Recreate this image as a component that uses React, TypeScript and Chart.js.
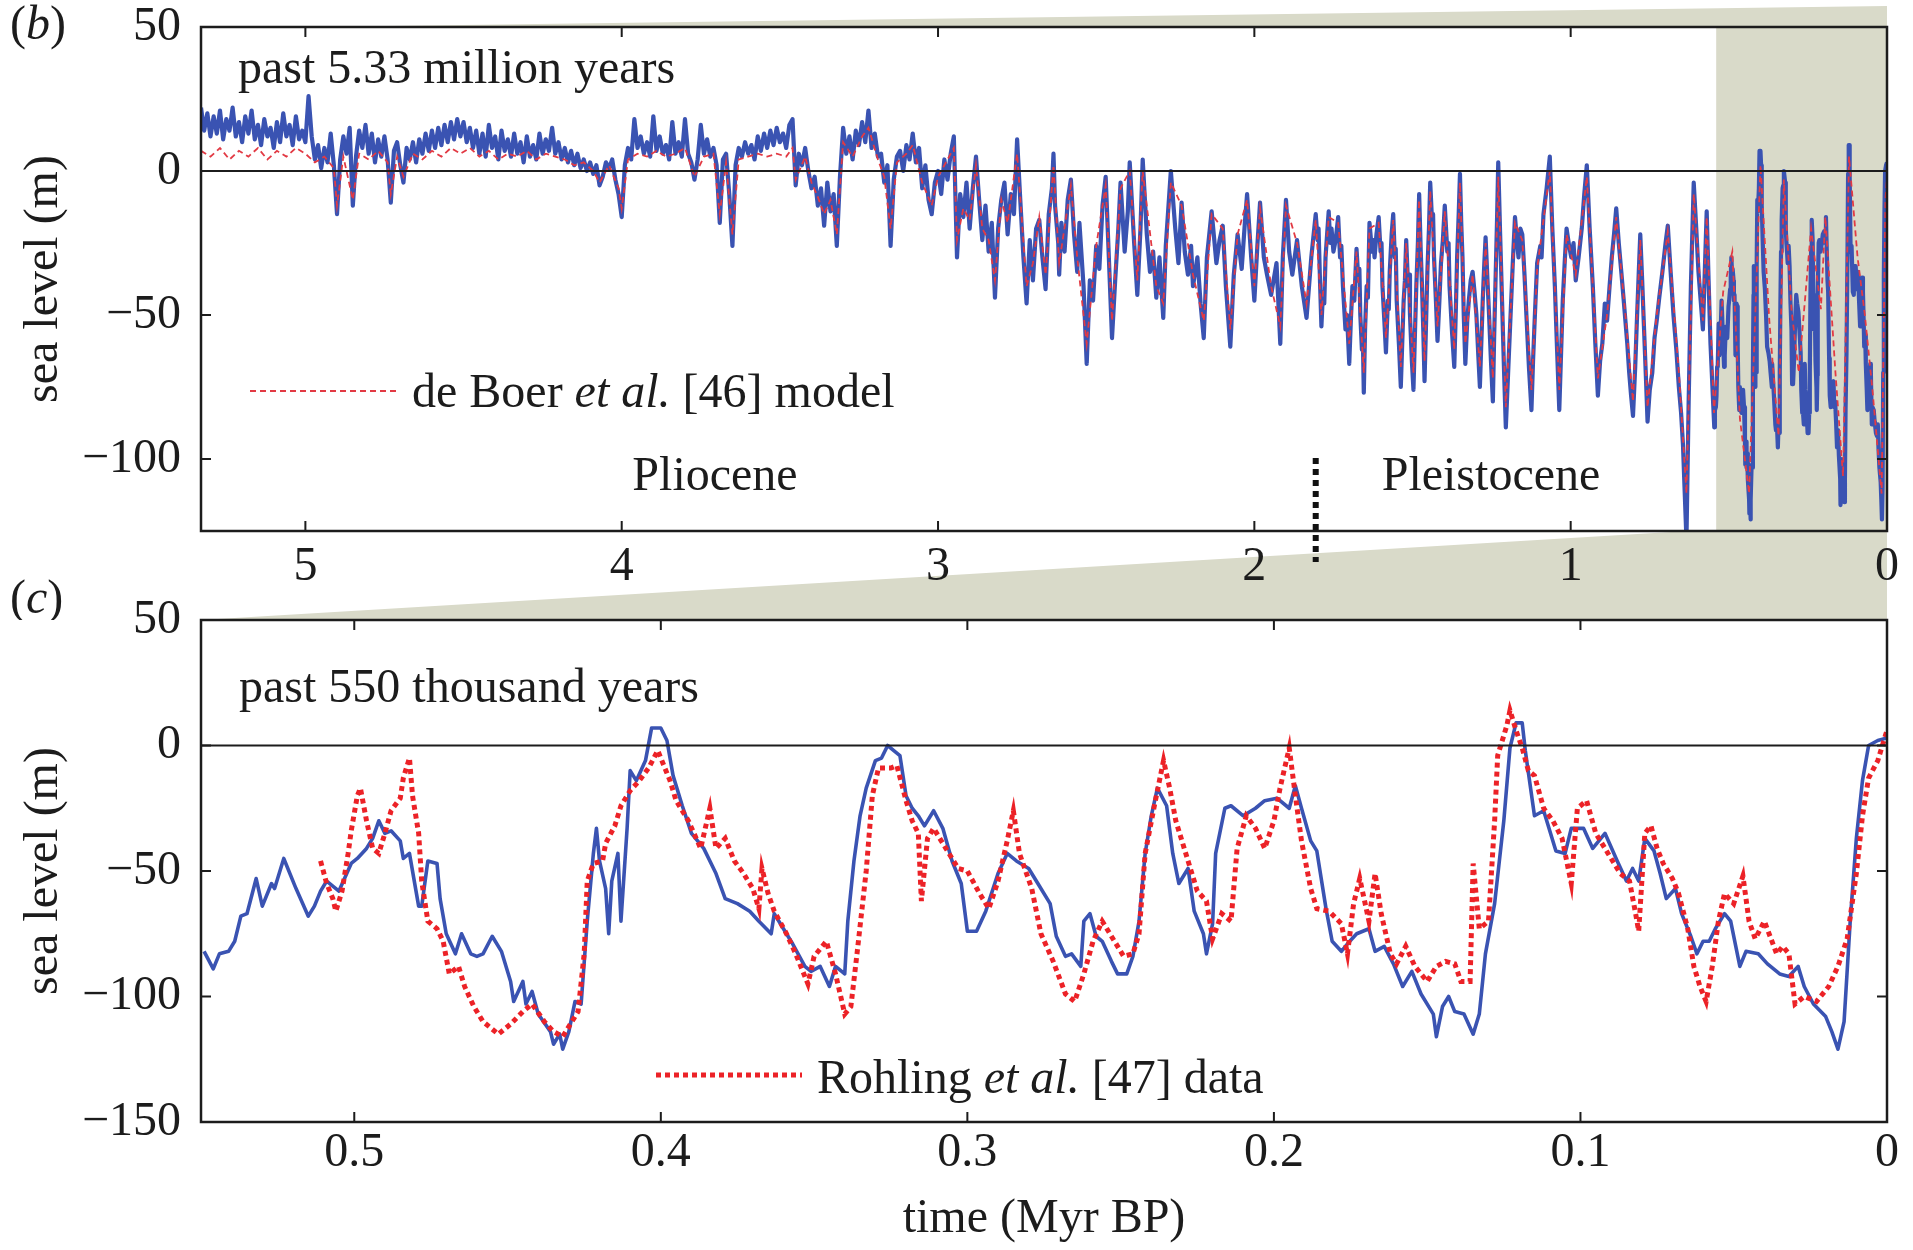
import React, { useEffect, useRef } from 'react';
import { Chart, registerables } from 'chart.js';

Chart.register(...registerables);

const FONT = '"Liberation Serif", "Times New Roman", serif';
const INK = '#1c1c1c';
const BLUE = '#3a53b2';
const RED_B = '#e23a44';
const RED_C = '#ec2227';
const SHADE = '#d9dac9';

// ---------- panel (b): past 5.33 Myr ----------
const bBlueTime = [
  5.33, 5.32, 5.31, 5.30, 5.29, 5.28, 5.27, 5.26, 5.25, 5.24, 5.23, 5.22, 5.21, 5.20, 5.19, 5.18, 5.17, 5.16, 5.15, 5.14,
  5.13, 5.12, 5.11, 5.10, 5.09, 5.08, 5.07, 5.06, 5.05, 5.04, 5.03, 5.02, 5.01, 5.00, 4.99, 4.98, 4.97, 4.96, 4.95, 4.94,
  4.93, 4.92, 4.91, 4.90, 4.89, 4.88, 4.87, 4.86, 4.85, 4.84, 4.83, 4.82, 4.81, 4.80, 4.79, 4.78, 4.77, 4.76, 4.75, 4.74,
  4.73, 4.72, 4.71, 4.70, 4.69, 4.68, 4.67, 4.66, 4.65, 4.64, 4.63, 4.62, 4.61, 4.60, 4.59, 4.58, 4.57, 4.56, 4.55, 4.54,
  4.53, 4.52, 4.51, 4.50, 4.49, 4.48, 4.47, 4.46, 4.45, 4.44, 4.43, 4.42, 4.41, 4.40, 4.39, 4.38, 4.37, 4.36, 4.35, 4.34,
  4.33, 4.32, 4.31, 4.30, 4.29, 4.28, 4.27, 4.26, 4.25, 4.24, 4.23, 4.22, 4.21, 4.20, 4.19, 4.18, 4.17, 4.16, 4.15, 4.14,
  4.13, 4.12, 4.11, 4.10, 4.09, 4.08, 4.07, 4.06, 4.05, 4.04, 4.03, 4.02, 4.01, 4.00, 3.99, 3.98, 3.97, 3.96, 3.95, 3.94,
  3.93, 3.92, 3.91, 3.90, 3.89, 3.88, 3.87, 3.86, 3.85, 3.84, 3.83, 3.82, 3.81, 3.80, 3.79, 3.78, 3.77, 3.76, 3.75, 3.74,
  3.73, 3.72, 3.71, 3.70, 3.69, 3.68, 3.67, 3.66, 3.65, 3.64, 3.63, 3.62, 3.61, 3.60, 3.59, 3.58, 3.57, 3.56, 3.55, 3.54,
  3.53, 3.52, 3.51, 3.50, 3.49, 3.48, 3.47, 3.46, 3.45, 3.44, 3.43, 3.42, 3.41, 3.40, 3.39, 3.38, 3.37, 3.36, 3.35, 3.34,
  3.33, 3.32, 3.31, 3.30, 3.29, 3.28, 3.27, 3.26, 3.25, 3.24, 3.23, 3.22, 3.21, 3.20, 3.19, 3.18, 3.17, 3.16, 3.15, 3.14,
  3.13, 3.12, 3.11, 3.10, 3.09, 3.08, 3.07, 3.06, 3.05, 3.04, 3.03, 3.02, 3.01, 3.00, 2.99, 2.98, 2.97, 2.96, 2.95, 2.94,
  2.93, 2.92, 2.91, 2.90, 2.89, 2.88, 2.87, 2.86, 2.85, 2.84, 2.83, 2.82, 2.81, 2.80, 2.79, 2.78, 2.77, 2.76, 2.75, 2.74,
  2.73, 2.72, 2.71, 2.70, 2.69, 2.68, 2.67, 2.66, 2.65, 2.64, 2.635, 2.63, 2.62, 2.617, 2.61, 2.60, 2.59, 2.58, 2.57, 2.56,
  2.553, 2.54, 2.53, 2.52, 2.51, 2.50, 2.49, 2.48, 2.47, 2.46, 2.45, 2.44, 2.43, 2.423, 2.41, 2.40, 2.394, 2.38, 2.37, 2.36,
  2.353, 2.34, 2.33, 2.32, 2.31, 2.30, 2.288, 2.28, 2.264, 2.25, 2.24, 2.23, 2.22, 2.21, 2.20, 2.194, 2.18, 2.17, 2.16, 2.15,
  2.135, 2.12, 2.11, 2.10, 2.09, 2.076, 2.065, 2.053, 2.04, 2.03, 2.023, 2.01, 2.00, 1.99, 1.982, 1.97, 1.96, 1.947, 1.93, 1.918,
  1.91, 1.90, 1.89, 1.88, 1.865, 1.85, 1.835, 1.82,
];
const bBlueSea = [
  22, 14, 20, 12, 19, 13, 21, 11, 18, 14, 22, 12, 17, 10, 19, 13, 21, 11, 16, 9,
  18, 12, 15, 8, 17, 10, 20, 12, 16, 9, 19, 11, 14, 10, 26, 12, 4, 9, 1, 8,
  3, 13, 2, -15, 4, 12, 6, 15, -12, 5, 14, 8, 16, 6, 13, 3, 11, 5, 12, 4,
  -11, 7, 10, 2, -4, 8, 4, 10, 3, 11, 6, 13, 7, 14, 8, 15, 9, 16, 10, 17,
  11, 18, 12, 17, 10, 15, 8, 14, 6, 13, 5, 16, 8, 12, 4, 14, 7, 11, 5, 13,
  6, 10, 3, 12, 5, 9, 4, 13, 6, 11, 7, 15, 6, 10, 4, 8, 3, 7, 2, 6,
  1, 4, 0, 3, -1, 2, -5, -2, 3, 1, 4, -3, -8, -16, 2, 8, 4, 18, 8, 12,
  6, 10, 5, 19, 7, 12, 6, 9, 4, 17, 6, 10, 5, 18, 6, 3, -3, 4, 16, 6,
  11, 5, 8, 2, -18, 4, 6, -8, -26, 2, 8, 5, 10, 6, 9, 4, 12, 7, 13, 8,
  14, 9, 15, 10, 13, 8, 16, 18, -5, 6, 2, 8, 0, -6, -2, -12, -6, -19, -4, -14,
  -8, -26, -2, 15, 6, 12, 4, 14, 9, 17, 10, 21, 8, 13, 5, 6, -4, 2, -26, -3,
  5, 7, 0, 9, 4, 13, 3, 8, -6, 2, -10, -15, -4, 0, -8, 4, -3, 6, 12, -30,
  -8, -16, -4, -20, -6, 5, -10, -24, -12, -28, -18, -44, -20, -10, -4, -22, -8, -15, 11, -10,
  -30, -46, -24, -38, -20, -17, -30, -41, -15, -6, 6, -12, -25, -36, -18, -28, -10, -3, -22, -35,
  -18, -40, -67, -38, -45, -26, -34, -12, -2, -30, -58, -38, -20, -4, -28, -14, 3, -25, -43, -20,
  4, -22, -35, -28, -44, -30, -51, -26, 0, -20, -32, -11, -28, -36, -26, -40, -30, -46, -58, -30,
  -14, -32, -24, -19, -40, -61, -36, -22, -34, -18, -8, -30, -45, -25, -11, -30, -36, -43, -32, -60,
  -30, -10, -28, -36, -24, -40, -51, -30,
];

// Pleistocene part of panel (b), 1.806 – 0.558 Myr
const bPleistTime = [
  1.806, 1.800, 1.797, 1.792, 1.788, 1.783, 1.779, 1.775, 1.770, 1.765,
  1.760, 1.756, 1.75, 1.743, 1.735, 1.729, 1.725, 1.72, 1.712, 1.707,
  1.70, 1.695, 1.69, 1.684, 1.677, 1.671, 1.668, 1.665, 1.660, 1.657,
  1.654, 1.650, 1.645, 1.641, 1.636, 1.628, 1.624, 1.62, 1.614, 1.607,
  1.601, 1.598, 1.595, 1.589, 1.584, 1.578, 1.575, 1.572, 1.566, 1.561,
  1.556, 1.553, 1.55, 1.543, 1.537, 1.532, 1.528, 1.524, 1.52, 1.514,
  1.511, 1.508, 1.502, 1.497, 1.492, 1.488, 1.483, 1.479, 1.474, 1.47,
  1.466, 1.462, 1.457, 1.453, 1.448, 1.444, 1.438, 1.435, 1.432, 1.426,
  1.421, 1.415, 1.41, 1.404, 1.398, 1.390, 1.386, 1.383, 1.375, 1.368,
  1.363, 1.359, 1.354, 1.35, 1.346, 1.342, 1.338, 1.333, 1.327, 1.322,
  1.316, 1.31, 1.304, 1.298, 1.292, 1.287, 1.282, 1.278, 1.273, 1.269,
  1.263, 1.258, 1.252, 1.246, 1.242, 1.238, 1.233, 1.229, 1.223, 1.217,
  1.211, 1.205, 1.197, 1.19, 1.183, 1.176, 1.170, 1.165, 1.159, 1.153,
  1.146, 1.14, 1.132, 1.124, 1.119, 1.115, 1.11, 1.106, 1.096, 1.092,
  1.086, 1.076, 1.066, 1.058, 1.05, 1.043, 1.036, 1.03, 1.025, 1.019,
  1.013, 1.005, 0.998, 0.991, 0.984, 0.975, 0.965, 0.957, 0.949, 0.94,
  0.93, 0.922, 0.914, 0.907, 0.9, 0.892, 0.885, 0.877, 0.87, 0.863,
  0.856, 0.848, 0.84, 0.833, 0.827, 0.821, 0.815, 0.809, 0.803, 0.796,
  0.79, 0.785, 0.78, 0.774, 0.768, 0.762, 0.757, 0.75, 0.742, 0.735,
  0.728, 0.72, 0.71, 0.70, 0.693, 0.684, 0.675, 0.666, 0.658, 0.651,
  0.645, 0.64, 0.634, 0.627, 0.62, 0.615, 0.611, 0.603, 0.596, 0.589,
  0.582, 0.576, 0.57, 0.564, 0.558,
];
const bPleistSea = [
  -15, -24, -20, -40, -54, -42, -46, -30, -22, -14,
  -25, -20, -28, -24, -16, -30, -26, -40, -55, -50,
  -67, -52, -40, -45, -27, -38, -34, -50, -62, -58,
  -77, -55, -40, -44, -18, -28, -24, -30, -22, -16,
  -28, -25, -40, -52, -63, -45, -48, -35, -22, -15,
  -30, -27, -45, -60, -75, -58, -45, -38, -24, -40,
  -36, -50, -66, -76, -55, -40, -25, -8, -28, -40,
  -55, -73, -52, -35, -20, -4, -18, -15, -30, -45,
  -59, -45, -32, -24, -12, -28, -25, -40, -56, -68,
  -48, -30, -15, -1, -18, -30, -50, -67, -52, -45,
  -38, -35, -42, -50, -64, -75, -58, -45, -32, -23,
  -38, -50, -66, -80, -58, -40, -18, 3, -22, -45,
  -68, -89, -68, -50, -32, -16, -24, -30, -20, -22,
  -36, -50, -68, -83, -66, -55, -42, -32, -26, -30,
  -15, -6, 5, -20, -40, -62, -83, -62, -45, -32,
  -20, -26, -30, -25, -38, -30, -20, -8, 2, -20,
  -40, -60, -78, -66, -60, -46, -52, -40, -30, -22,
  -13, -25, -35, -44, -52, -60, -70, -78, -85, -68,
  -50, -36, -22, -38, -55, -72, -87, -76, -70, -58,
  -52, -44, -35, -25, -19, -35, -50, -62, -75, -84,
  -95, -110, -128, -80, -40, -20, -4, -20, -35, -45,
  -55, -35, -14, -38, -60,
];

const bRedTime = [
  5.33, 5.30, 5.27, 5.24, 5.21, 5.18, 5.15, 5.12, 5.09, 5.06, 5.03, 5.00, 4.97, 4.94, 4.91, 4.90, 4.88, 4.85, 4.83, 4.80,
  4.77, 4.74, 4.73, 4.71, 4.69, 4.66, 4.63, 4.60, 4.57, 4.54, 4.51, 4.48, 4.45, 4.42, 4.39, 4.36, 4.33, 4.30, 4.27, 4.24,
  4.21, 4.18, 4.15, 4.12, 4.09, 4.07, 4.04, 4.01, 4.00, 3.98, 3.95, 3.92, 3.89, 3.86, 3.83, 3.80, 3.77, 3.74, 3.71, 3.69,
  3.67, 3.65, 3.63, 3.60, 3.57, 3.54, 3.51, 3.48, 3.46, 3.45, 3.42, 3.40, 3.38, 3.36, 3.34, 3.32, 3.30, 3.27, 3.24, 3.22,
  3.19, 3.17, 3.15, 3.13, 3.10, 3.08, 3.05, 3.02, 3.00, 2.98, 2.95, 2.94, 2.92, 2.90, 2.88, 2.86, 2.84, 2.82, 2.80, 2.78,
  2.75, 2.72, 2.70, 2.68, 2.66, 2.635, 2.617, 2.58, 2.56, 2.53, 2.50, 2.47, 2.45, 2.423, 2.394, 2.37, 2.353, 2.31, 2.288, 2.264,
  2.23, 2.194, 2.16, 2.135, 2.10, 2.076, 2.053, 2.023, 2.00, 1.982, 1.947, 1.918, 1.90, 1.865, 1.835, 1.806, 1.788, 1.765, 1.735, 1.70,
  1.677, 1.654, 1.636, 1.607, 1.584, 1.561, 1.537, 1.52, 1.497, 1.479, 1.462, 1.444, 1.421, 1.398, 1.368, 1.35, 1.333, 1.31, 1.287, 1.269,
  1.246, 1.229, 1.205, 1.176, 1.153, 1.124, 1.106, 1.066, 1.036, 1.013, 0.984, 0.949, 0.914, 0.885, 0.856, 0.827, 0.803, 0.78, 0.757, 0.728,
  0.693, 0.658, 0.634, 0.611, 0.582, 0.57, 0.547, 0.518, 0.489, 0.465, 0.436, 0.40, 0.372, 0.343, 0.326, 0.302, 0.279, 0.24, 0.209, 0.195,
  0.163, 0.139, 0.12, 0.093, 0.070, 0.046, 0.017, 0.005, 0.0,
];
const bRedSea = [
  7, 5, 8, 4, 7, 5, 8, 4, 7, 5, 8, 6, 3, 5, 1, -12, 5, -10, 6, 4,
  7, 3, -8, 5, -2, 6, 4, 7, 5, 8, 6, 8, 5, 7, 4, 6, 5, 7, 4, 6,
  5, 4, 2, 3, 0, -4, 2, -6, -13, 4, 6, 5, 7, 5, 6, 8, -2, 5, 6, -15,
  3, -22, 4, 5, 6, 5, 6, 5, 8, -3, 5, -4, -9, -15, -10, -22, 10, 5, 12, 15,
  4, -2, -20, 3, 6, 9, -4, -12, -2, 2, 8, -24, -13, -17, 2, -20, -24, -38, -10, -18,
  6, -40, -32, -16, -36, 2, -32, -5, -30, -60, -26, -5, -52, -6, 0, -38, 0, -40, -46, -4,
  -12, -36, -52, -15, -20, -55, -22, -10, -40, -13, -40, -54, -12, -25, -46, -17, -50, -16, -18, -60,
  -28, -70, -20, -18, -58, -17, -68, -25, -70, -10, -66, -7, -54, -14, -62, -4, -60, -36, -68, -25,
  -72, -2, -82, -18, -24, -76, -34, 0, -76, -22, -36, -2, -72, -50, -16, -50, -80, -24, -82, -50,
  -21, -70, -112, -8, -52, -16, -84, -42, -28, -86, -112, 2, -52, -92, -3, -48, -70, -20, -48, -16,
  -70, -106, 5, -30, -50, -76, -112, -10, -2,
];

// ---------- panel (c): past 550 kyr ----------
const cBlueTime = [
  0.549, 0.546, 0.544, 0.541, 0.539, 0.537, 0.535, 0.532, 0.530, 0.527, 0.526, 0.523, 0.519, 0.515, 0.513, 0.511, 0.509, 0.505, 0.501, 0.499,
  0.496, 0.494, 0.492, 0.490, 0.488, 0.485, 0.484, 0.482, 0.479, 0.478, 0.476, 0.473, 0.472, 0.470, 0.467, 0.465, 0.462, 0.460, 0.458, 0.455,
  0.452, 0.449, 0.448, 0.445, 0.444, 0.442, 0.440, 0.436, 0.435, 0.433, 0.432, 0.430, 0.428, 0.426, 0.424, 0.422, 0.421, 0.420, 0.418, 0.417,
  0.416, 0.414, 0.413, 0.411, 0.410, 0.408, 0.405, 0.403, 0.400, 0.398, 0.396, 0.393, 0.390, 0.386, 0.382, 0.379, 0.375, 0.371, 0.368, 0.364,
  0.363, 0.360, 0.357, 0.353, 0.351, 0.348, 0.345, 0.343, 0.340, 0.339, 0.337, 0.335, 0.333, 0.330, 0.328, 0.326, 0.324, 0.322, 0.320, 0.318,
  0.316, 0.314, 0.311, 0.308, 0.305, 0.302, 0.300, 0.297, 0.294, 0.290, 0.287, 0.284, 0.280, 0.277, 0.273, 0.271, 0.268, 0.266, 0.263, 0.262,
  0.260, 0.258, 0.256, 0.253, 0.251, 0.248, 0.246, 0.244, 0.242, 0.240, 0.238, 0.235, 0.233, 0.231, 0.228, 0.226, 0.223, 0.222, 0.220, 0.219,
  0.216, 0.214, 0.210, 0.206, 0.203, 0.199, 0.195, 0.193, 0.191, 0.188, 0.186, 0.183, 0.181, 0.178, 0.176, 0.173, 0.169, 0.167, 0.164, 0.161,
  0.158, 0.155, 0.152, 0.148, 0.147, 0.145, 0.143, 0.141, 0.138, 0.135, 0.133, 0.131, 0.128, 0.125, 0.123, 0.121, 0.119, 0.118, 0.115, 0.112,
  0.108, 0.105, 0.103, 0.099, 0.096, 0.092, 0.088, 0.085, 0.083, 0.081, 0.079, 0.076, 0.074, 0.072, 0.069, 0.067, 0.064, 0.062, 0.060, 0.058,
  0.056, 0.053, 0.051, 0.048, 0.046, 0.042, 0.039, 0.035, 0.032, 0.029, 0.027, 0.024, 0.020, 0.018, 0.016, 0.014, 0.012, 0.010, 0.008, 0.006,
  0.003, 0.0,
];
const cBlueSea = [
  -82, -89, -83, -82, -78, -68, -67, -53, -64, -55, -57, -45, -57, -68, -64, -58, -54, -58, -47, -45,
  -41, -37, -30, -35, -34, -38, -45, -43, -64, -64, -46, -47, -61, -75, -83, -75, -83, -84, -83, -76,
  -82, -94, -102, -94, -103, -98, -107, -114, -119, -115, -121, -114, -102, -103, -70, -43, -33, -46, -57, -75,
  -54, -43, -70, -33, -10, -14, -6, 7, 7, 2, -12, -24, -35, -41, -51, -61, -63, -66, -70, -75,
  -67, -73, -79, -88, -90, -88, -96, -88, -91, -70, -46, -28, -17, -6, -5, 0, -2, -4, -20, -25,
  -28, -32, -26, -33, -46, -55, -74, -74, -66, -51, -43, -46, -49, -55, -63, -76, -84, -83, -88, -70,
  -67, -76, -78, -86, -91, -91, -84, -70, -43, -28, -17, -24, -43, -55, -49, -66, -75, -83, -71, -43,
  -25, -24, -28, -25, -22, -21, -25, -16, -25, -38, -42, -65, -78, -82, -79, -75, -73, -82, -80, -87,
  -96, -90, -99, -107, -116, -104, -100, -106, -107, -115, -107, -83, -63, -30, -1, 9, 9, -2, -28, -26,
  -42, -43, -33, -33, -41, -35, -46, -54, -49, -54, -37, -42, -51, -61, -57, -67, -76, -83, -78, -78,
  -73, -67, -70, -88, -82, -83, -87, -91, -92, -88, -96, -103, -108, -114, -121, -110, -70, -37, -14, 0,
  2, 3,
];

const cRedTime = [
  0.511, 0.509, 0.507, 0.506, 0.504, 0.502, 0.501, 0.499, 0.498, 0.496, 0.494, 0.492, 0.490, 0.488, 0.485, 0.484, 0.482, 0.481, 0.479, 0.478,
  0.476, 0.473, 0.471, 0.469, 0.466, 0.464, 0.461, 0.458, 0.453, 0.449, 0.445, 0.442, 0.438, 0.435, 0.432, 0.430, 0.427, 0.425, 0.424, 0.422,
  0.419, 0.418, 0.415, 0.413, 0.410, 0.407, 0.404, 0.401, 0.399, 0.397, 0.395, 0.391, 0.387, 0.384, 0.382, 0.379, 0.376, 0.373, 0.370, 0.368,
  0.367, 0.365, 0.363, 0.359, 0.356, 0.352, 0.350, 0.346, 0.343, 0.340, 0.338, 0.336, 0.333, 0.331, 0.329, 0.325, 0.323, 0.320, 0.318, 0.316,
  0.315, 0.313, 0.311, 0.307, 0.303, 0.300, 0.296, 0.293, 0.290, 0.287, 0.285, 0.283, 0.279, 0.276, 0.272, 0.268, 0.265, 0.262, 0.259, 0.256,
  0.252, 0.249, 0.246, 0.244, 0.242, 0.239, 0.236, 0.234, 0.232, 0.228, 0.225, 0.222, 0.220, 0.217, 0.214, 0.212, 0.209, 0.206, 0.203, 0.200,
  0.198, 0.195, 0.193, 0.191, 0.188, 0.186, 0.182, 0.178, 0.176, 0.174, 0.172, 0.169, 0.167, 0.165, 0.162, 0.160, 0.157, 0.154, 0.150, 0.147,
  0.144, 0.141, 0.139, 0.136, 0.135, 0.133, 0.130, 0.128, 0.127, 0.124, 0.123, 0.121, 0.119, 0.117, 0.115, 0.112, 0.109, 0.106, 0.103, 0.101,
  0.098, 0.095, 0.091, 0.087, 0.084, 0.082, 0.081, 0.079, 0.077, 0.075, 0.073, 0.070, 0.068, 0.065, 0.063, 0.061, 0.059, 0.057, 0.055, 0.053,
  0.050, 0.047, 0.045, 0.043, 0.040, 0.036, 0.034, 0.032, 0.030, 0.027, 0.023, 0.019, 0.016, 0.013, 0.010, 0.008, 0.006, 0.003, 0.001, 0.0,
];
const cRedSea = [
  -46, -55, -61, -66, -58, -43, -34, -20, -17, -30, -41, -43, -35, -26, -21, -13, -5, -20, -35, -54,
  -70, -73, -78, -91, -88, -96, -104, -110, -115, -111, -106, -103, -110, -114, -116, -112, -106, -83, -54, -47,
  -46, -39, -32, -24, -18, -14, -9, -2, -8, -14, -22, -30, -41, -25, -41, -37, -46, -51, -57, -65,
  -49, -59, -66, -75, -83, -95, -84, -78, -91, -107, -104, -83, -50, -20, -9, -9, -8, -22, -30, -35,
  -62, -37, -33, -41, -49, -50, -59, -65, -54, -38, -26, -43, -57, -75, -86, -99, -102, -91, -78, -70,
  -78, -84, -83, -75, -43, -24, -6, -17, -30, -46, -58, -62, -77, -67, -70, -41, -28, -33, -41, -30,
  -17, -1, -20, -38, -57, -65, -66, -71, -83, -63, -53, -70, -51, -67, -83, -87, -80, -88, -94, -88,
  -86, -87, -94, -94, -47, -73, -70, -30, -4, 8, 14, 6, -1, -10, -12, -25, -30, -37, -55, -25,
  -22, -35, -43, -51, -54, -67, -74, -35, -32, -41, -47, -53, -59, -73, -88, -96, -102, -88, -70, -59,
  -63, -52, -70, -77, -70, -83, -80, -83, -103, -100, -102, -96, -88, -77, -51, -28, -13, -6, 2, 6,
];

// ---------- axes ----------
const bXTicks = [0, 1, 2, 3, 4, 5];
const bYTicks = [-100, -50, 0, 50];
const cXTicks = [0, 0.1, 0.2, 0.3, 0.4, 0.5];
const cYTicks = [-150, -100, -50, 0, 50];
const epochBoundary = 1.806;

function pts(t: number[], v: number[]) {
  return t.map((x, i) => ({ x, y: v[i] }));
}
const fmtInt = (v: number) => (v < 0 ? '\u2212' + Math.abs(v) : String(v));
const fmtDec = (v: number) => (Math.abs(v) < 1e-9 ? '0' : v.toFixed(1));

function rich(ctx: CanvasRenderingContext2D, x: number, y: number, parts: [string, boolean][], size = 48) {
  let cx = x;
  ctx.textBaseline = 'alphabetic';
  ctx.textAlign = 'left';
  ctx.fillStyle = INK;
  for (const [s, it] of parts) {
    ctx.font = `${it ? 'italic ' : ''}${size}px ${FONT}`;
    ctx.fillText(s, cx, y);
    cx += ctx.measureText(s).width;
  }
}

function frameTicks(xt: number[], yt: number[]) {
  return {
    id: 'frameTicks',
    afterDatasetsDraw(chart: any) {
      const { ctx, chartArea: a, scales } = chart;
      const y0 = scales.y.getPixelForValue(0);
      ctx.save();
      ctx.strokeStyle = INK;
      ctx.lineWidth = 2;
      ctx.beginPath();
      ctx.moveTo(a.left, y0);
      ctx.lineTo(a.right, y0);
      ctx.stroke();
      ctx.restore();
    },
    afterDraw(chart: any) {
      const { ctx, chartArea: a, scales } = chart;
      ctx.save();
      ctx.strokeStyle = INK;
      ctx.lineWidth = 2.5;
      ctx.strokeRect(a.left, a.top, a.right - a.left, a.bottom - a.top);
      ctx.lineWidth = 2;
      const L = 10;
      ctx.beginPath();
      for (const v of xt) {
        const px = scales.x.getPixelForValue(v);
        ctx.moveTo(px, a.bottom);
        ctx.lineTo(px, a.bottom - L);
        ctx.moveTo(px, a.top);
        ctx.lineTo(px, a.top + L);
      }
      for (const v of yt) {
        const py = scales.y.getPixelForValue(v);
        ctx.moveTo(a.left, py);
        ctx.lineTo(a.left + L, py);
        ctx.moveTo(a.right, py);
        ctx.lineTo(a.right - L, py);
      }
      ctx.stroke();
      ctx.restore();
    },
  };
}

const tickFont = { family: FONT, size: 48 };

function zeroPad(s: any) {
  s.paddingTop = 0;
  s.paddingBottom = 0;
  s.paddingLeft = 0;
  s.paddingRight = 0;
}

function axisX(min: number, max: number, ticks: number[], height: number, pad: number, fmt: (v: number) => string, title?: string) {
  return {
    type: 'linear',
    reverse: true,
    min,
    max,
    grid: { display: false, drawTicks: false },
    border: { display: false },
    afterBuildTicks: (s: any) => {
      s.ticks = ticks.map((v) => ({ value: v }));
    },
    afterFit: (s: any) => {
      s.height = height;
      zeroPad(s);
    },
    ticks: { font: tickFont, color: INK, padding: pad, maxRotation: 0, minRotation: 0, autoSkip: false, callback: (v: any) => fmt(Number(v)) },
    title: title
      ? { display: true, text: title, font: tickFont, color: INK, padding: { top: 0, bottom: 2 } }
      : { display: false },
  };
}

function axisY(min: number, max: number, ticks: number[]) {
  return {
    type: 'linear',
    min,
    max,
    grid: { display: false, drawTicks: false },
    border: { display: false },
    afterBuildTicks: (s: any) => {
      s.ticks = ticks.map((v) => ({ value: v }));
    },
    afterFit: (s: any) => {
      s.width = 201;
      zeroPad(s);
    },
    ticks: { font: tickFont, color: INK, padding: 20, autoSkip: false, callback: (v: any) => fmtInt(Number(v)) },
    title: { display: true, text: 'sea level (m)', font: tickFont, color: INK, padding: { top: 16, bottom: 0 } },
  };
}

export default function App() {
  const refB = useRef<HTMLCanvasElement>(null);
  const refC = useRef<HTMLCanvasElement>(null);

  useEffect(() => {
    const decorB = {
      id: 'decorB',
      beforeDraw(chart: any) {
        const { ctx, chartArea: a, scales } = chart;
        ctx.save();
        ctx.fillStyle = SHADE;
        // wedge above panel (b)
        ctx.beginPath();
        ctx.moveTo(312, a.top);
        ctx.lineTo(a.right, 6);
        ctx.lineTo(a.right, a.top);
        ctx.closePath();
        ctx.fill();
        // wedge linking (b) to (c)
        ctx.beginPath();
        ctx.moveTo(scales.x.getPixelForValue(0.63), a.bottom);
        ctx.lineTo(a.right, a.bottom);
        ctx.lineTo(a.right, 620);
        ctx.lineTo(a.left, 620);
        ctx.closePath();
        ctx.fill();
        ctx.restore();
      },
      beforeDatasetsDraw(chart: any) {
        const { ctx, chartArea: a, scales } = chart;
        ctx.save();
        ctx.fillStyle = SHADE;
        const x0 = scales.x.getPixelForValue(0.54);
        ctx.fillRect(x0, a.top, a.right - x0, a.bottom - a.top);
        ctx.restore();
      },
      afterDraw(chart: any) {
        const { ctx, scales } = chart;
        ctx.save();
        rich(ctx, 10, 39, [['(', false], ['b', true], [')', false]]);
        rich(ctx, 10, 613, [['(', false], ['c', true], [')', false]]);
        rich(ctx, 238, 83, [['past 5.33 million years', false]]);
        rich(ctx, 412, 407, [['de Boer ', false], ['et al.', true], [' [46] model', false]]);
        ctx.textAlign = 'center';
        ctx.font = `48px ${FONT}`;
        ctx.fillText('Pliocene', 715, 490);
        ctx.fillText('Pleistocene', 1491, 490);
        // legend sample
        ctx.strokeStyle = RED_B;
        ctx.lineWidth = 1.8;
        ctx.setLineDash([6, 4]);
        ctx.beginPath();
        ctx.moveTo(250, 391);
        ctx.lineTo(396, 391);
        ctx.stroke();
        // epoch boundary
        const xb = scales.x.getPixelForValue(epochBoundary);
        ctx.strokeStyle = '#111';
        ctx.lineWidth = 6;
        ctx.setLineDash([6, 5]);
        ctx.beginPath();
        ctx.moveTo(xb, 458);
        ctx.lineTo(xb, 562);
        ctx.stroke();
        ctx.restore();
      },
    };

    const decorC = {
      id: 'decorC',
      afterDraw(chart: any) {
        const { ctx } = chart;
        ctx.save();
        rich(ctx, 239, 102, [['past 550 thousand years', false]]);
        rich(ctx, 817, 493, [['Rohling ', false], ['et al.', true], [' [47] data', false]]);
        ctx.strokeStyle = RED_C;
        ctx.lineWidth = 5;
        ctx.setLineDash([5, 4]);
        ctx.beginPath();
        ctx.moveTo(656, 475);
        ctx.lineTo(802, 475);
        ctx.stroke();
        ctx.restore();
      },
    };

    const chartB = new Chart(refB.current as HTMLCanvasElement, {
      type: 'line',
      data: {
        datasets: [
          {
            label: 'de Boer et al. [46] model',
            data: pts(bRedTime, bRedSea),
            borderColor: RED_B,
            borderWidth: 1.8,
            borderDash: [6, 4],
            pointRadius: 0,
            tension: 0,
            order: 0,
          },
          {
            label: 'sea level',
            data: pts(
              bBlueTime.concat(bPleistTime, cBlueTime),
              bBlueSea.concat(bPleistSea, cBlueSea)
            ),
            borderColor: BLUE,
            borderWidth: 4.2,
            borderJoinStyle: 'round',
            pointRadius: 0,
            tension: 0,
            order: 1,
          },
        ],
      },
      options: {
        animation: false,
        responsive: false,
        devicePixelRatio: 1,
        layout: { padding: { left: 0, right: 26, top: 27, bottom: 0 } },
        plugins: { legend: { display: false }, tooltip: { enabled: false } },
        scales: {
          x: axisX(0, 5.33, bXTicks, 89, 8, fmtInt) as any,
          y: axisY(-125, 50, bYTicks) as any,
        },
      },
      plugins: [decorB, frameTicks(bXTicks, bYTicks)],
    } as any);

    const chartC = new Chart(refC.current as HTMLCanvasElement, {
      type: 'line',
      data: {
        datasets: [
          {
            label: 'Rohling et al. [47] data',
            data: pts(cRedTime, cRedSea),
            borderColor: RED_C,
            borderWidth: 5,
            borderDash: [5, 4],
            pointRadius: 0,
            tension: 0,
            order: 0,
          },
          {
            label: 'sea level',
            data: pts(cBlueTime, cBlueSea),
            borderColor: BLUE,
            borderWidth: 3.6,
            borderJoinStyle: 'round',
            pointRadius: 0,
            tension: 0,
            order: 1,
          },
        ],
      },
      options: {
        animation: false,
        responsive: false,
        devicePixelRatio: 1,
        layout: { padding: { left: 0, right: 26, top: 20, bottom: 0 } },
        plugins: { legend: { display: false }, tooltip: { enabled: false } },
        scales: {
          x: axisX(0, 0.55, cXTicks, 128, 3, fmtDec, 'time (Myr BP)') as any,
          y: axisY(-150, 50, cYTicks) as any,
        },
      },
      plugins: [decorC, frameTicks(cXTicks, cYTicks)],
    } as any);

    return () => {
      chartB.destroy();
      chartC.destroy();
    };
  }, []);

  return (
    <div style={{ position: 'absolute', left: 0, top: 0, width: 1913, height: 1250, background: '#fff' }}>
      <canvas ref={refB} width={1913} height={620} style={{ position: 'absolute', left: 0, top: 0, width: 1913, height: 620 }} />
      <canvas ref={refC} width={1913} height={650} style={{ position: 'absolute', left: 0, top: 600, width: 1913, height: 650 }} />
    </div>
  );
}
